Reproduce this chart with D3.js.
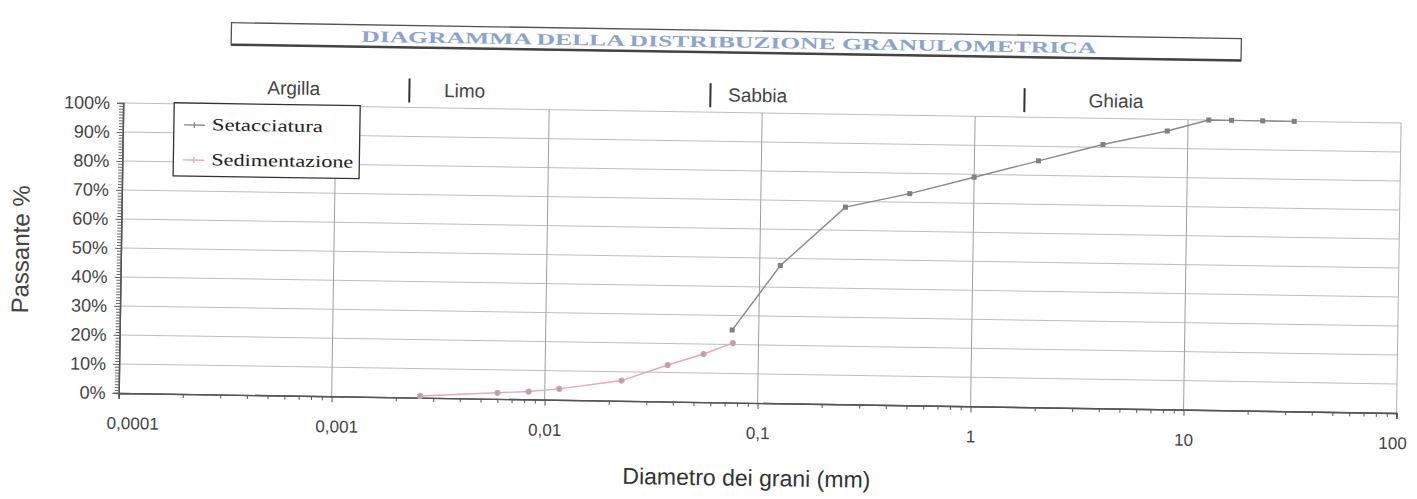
<!DOCTYPE html>
<html><head><meta charset="utf-8">
<script src="https://cdn.jsdelivr.net/npm/d3@7"></script>
<style>body{margin:0;background:#fff;} svg{display:block}</style>
</head><body><svg id="c" width="1417" height="499"></svg>
<script>
// ---- data ----
const chartTitle = "DIAGRAMMA DELLA DISTRIBUZIONE GRANULOMETRICA";
const seriesNames = ["Setacciatura", "Sedimentazione"];
const sieveDiam = [31.5, 22.4, 16, 12.5, 8, 4, 2, 1, 0.5, 0.25, 0.125, 0.075];
const sievePass = [100, 100, 100, 100, 96, 91, 85, 79, 73, 68, 47.5, 25];
const sedDiam = [0.0757, 0.0553, 0.0376, 0.0229, 0.0117, 0.0084, 0.006, 0.0026];
const sedPass = [20.5, 16.6, 12.6, 7, 3.8, 2.7, 2.1, 0.6];
const yTicks = [0, 10, 20, 30, 40, 50, 60, 70, 80, 90, 100];
const xTicks = [0.0001, 0.001, 0.01, 0.1, 1, 10, 100];
const xTickLabels = ["0,0001", "0,001", "0,01", "0,1", "1", "10", "100"];
const classNames = ["Argilla", "Limo", "Sabbia", "Ghiaia"];
const classLabelAt = [0.00063, 0.0032, 0.069, 3.4];
const classBounds = [0.0022, 0.057, 1.7];
const xTitle = "Diametro dei grani (mm)";
const yTitle = "Passante %";

// ---- layout ----
const svg = d3.select("#c");
const g = svg.append("g").attr("transform", "rotate(0.9,760,250)");
const x = d3.scaleLog().domain([1e-4, 100]).range([121, 1399]);
const y = d3.scaleLinear().domain([0, 100]).range([403, 113]);
const sans = "'Liberation Sans', Arial, sans-serif";
const serif = "'Liberation Serif', 'Times New Roman', serif";

// title box
g.append("rect").attr("x", 228).attr("y", 31).attr("width", 1010).attr("height", 22)
  .attr("fill", "none").attr("stroke", "#555").attr("stroke-width", 1.3);
g.append("line").attr("x1", 228).attr("x2", 1238).attr("y1", 53).attr("y2", 53)
  .attr("stroke", "#444").attr("stroke-width", 2.5);
g.append("text").attr("x", 358).attr("y", 48).text(chartTitle)
  .attr("font-family", serif).attr("font-size", 16).attr("font-weight", "bold").attr("fill", "#8ba4cf")
  .attr("textLength", 735).attr("lengthAdjust", "spacingAndGlyphs");

// gridlines
g.append("g").selectAll("line").data(yTicks.filter(d => d > 0)).join("line")
  .attr("x1", x.range()[0]).attr("x2", x.range()[1])
  .attr("y1", d => y(d)).attr("y2", d => y(d))
  .attr("stroke", "#bdbdbd").attr("stroke-width", 1);
g.append("g").selectAll("line").data(xTicks.slice(1)).join("line")
  .attr("x1", d => x(d)).attr("x2", d => x(d))
  .attr("y1", y(0)).attr("y2", y(100))
  .attr("stroke", d => d === 100 ? "#b0b0b0" : "#9e9e9e").attr("stroke-width", 1);

// minor x ticks
const minor = [];
for (let e = -4; e < 2; e++) for (let m = 2; m <= 9; m++) minor.push(m * Math.pow(10, e));
const xMinor = d3.axisBottom(x).tickValues(minor).tickSize(4).tickFormat("");
const gxm = g.append("g").attr("transform", `translate(0,${y(0)})`).call(xMinor);
const xAxis = d3.axisBottom(x).tickValues(xTicks).tickSize(6).tickPadding(18)
  .tickFormat((d, i) => xTickLabels[i]);
const gx = g.append("g").attr("transform", `translate(0,${y(0)})`).call(xAxis);
[gx, gxm].forEach(a => {
  a.select(".domain").attr("stroke", "#555").attr("stroke-width", 1.4);
  a.selectAll(".tick line").attr("stroke", "#555");
});
gx.selectAll(".tick text").attr("font-family", sans).attr("font-size", 17).attr("fill", "#444")
  .attr("dx", (d, i) => i === 0 ? 14 : (i === 1 ? 5 : (i === xTicks.length - 1 ? -4 : 0)));

// y axis
const yMinor = d3.axisLeft(y).tickValues(d3.range(0, 101, 1)).tickSize(4).tickFormat("");
const gym = g.append("g").attr("transform", `translate(${x.range()[0]},0)`).call(yMinor);
const yAxis = d3.axisLeft(y).tickValues(yTicks).tickSize(6).tickPadding(7).tickFormat(d => d + "%");
const gy = g.append("g").attr("transform", `translate(${x.range()[0]},0)`).call(yAxis);
[gy, gym].forEach(a => {
  a.select(".domain").attr("stroke", "#555").attr("stroke-width", 1.4);
  a.selectAll(".tick line").attr("stroke", "#666");
});
gy.selectAll(".tick text").attr("font-family", sans).attr("font-size", 18).attr("fill", "#444");

// class labels
g.append("g").selectAll("line").data(classBounds).join("line")
  .attr("x1", d => x(d)).attr("x2", d => x(d)).attr("y1", 84).attr("y2", 108)
  .attr("stroke", "#333").attr("stroke-width", 2);
g.append("g").selectAll("text").data(classNames).join("text")
  .attr("x", (d, i) => x(classLabelAt[i])).attr("y", 102)
  .attr("text-anchor", (d, i) => i === 0 ? "middle" : "start")
  .attr("font-family", sans).attr("font-size", 19).attr("fill", "#444").text(d => d);

// series
const sieve = sieveDiam.map((d, i) => ({ d, p: sievePass[i] }));
const sed = sedDiam.map((d, i) => ({ d, p: sedPass[i] }));
const line = d3.line().x(v => x(v.d)).y(v => y(v.p));
g.append("path").datum(sed).attr("d", line).attr("fill", "none")
  .attr("stroke", "#eaa6ba").attr("stroke-width", 1.4);
g.append("g").selectAll("circle").data(sed).join("circle")
  .attr("cx", v => x(v.d)).attr("cy", v => y(v.p)).attr("r", 2.6)
  .attr("fill", "#aaa").attr("stroke", "#d9a0b0").attr("stroke-width", 1);
g.append("path").datum(sieve).attr("d", line).attr("fill", "none")
  .attr("stroke", "#8a8a8a").attr("stroke-width", 1.4);
g.append("g").selectAll("rect").data(sieve).join("rect")
  .attr("x", v => x(v.d) - 2.5).attr("y", v => y(v.p) - 2.5).attr("width", 5).attr("height", 5)
  .attr("fill", "#808080");

// legend
const lg = g.append("g");
lg.append("rect").attr("x", 172).attr("y", 112).attr("width", 186).attr("height", 73)
  .attr("fill", "#fff").attr("stroke", "#333").attr("stroke-width", 1.3);
const legColors = ["#8a8a8a", "#eaa6ba"];
seriesNames.forEach((name, i) => {
  const yy = 134 + i * 35;
  lg.append("line").attr("x1", 182).attr("x2", 203).attr("y1", yy).attr("y2", yy)
    .attr("stroke", legColors[i]).attr("stroke-width", 1.3);
  lg.append("line").attr("x1", 192.5).attr("x2", 192.5).attr("y1", yy - 3).attr("y2", yy + 3)
    .attr("stroke", legColors[i]).attr("stroke-width", 1.3);
  lg.append("text").attr("x", 210).attr("y", yy + 5).text(name)
    .attr("font-family", serif).attr("font-size", 17).attr("fill", "#222")
    .attr("textLength", i === 0 ? 111 : 142).attr("lengthAdjust", "spacingAndGlyphs");
});

// axis titles
g.append("text").attr("x", 750).attr("y", 486).attr("text-anchor", "middle")
  .attr("font-family", sans).attr("font-size", 23).attr("fill", "#333").text(xTitle);
g.append("text").attr("transform", "translate(29,261) rotate(-90)").attr("text-anchor", "middle")
  .attr("font-family", sans).attr("font-size", 24).attr("fill", "#444").text(yTitle);
</script></body></html>
